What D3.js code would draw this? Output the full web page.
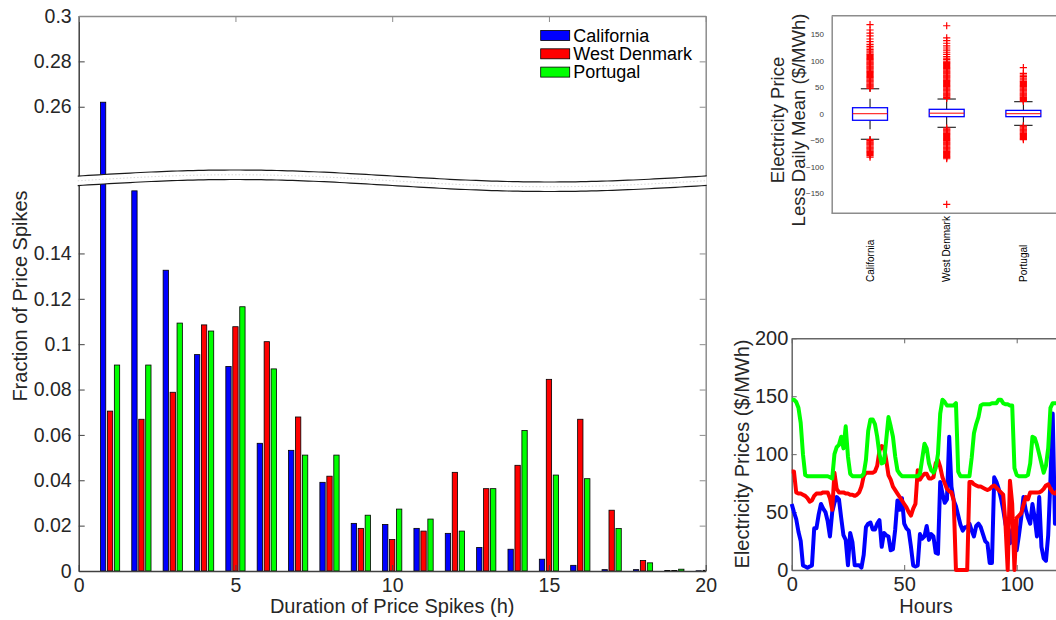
<!DOCTYPE html>
<html>
<head>
<meta charset="utf-8">
<script src="https://cdn.jsdelivr.net/npm/d3@7"></script>
<style>
  body { margin: 0; background: #fff; }
  text { font-family: "Liberation Sans", Arial, Helvetica, sans-serif; }
</style>
</head>
<body>
<svg id="fig" width="1056" height="620"></svg>
<script>
// ---------- Spike-duration histogram (fraction of spikes per duration) ----------
const durations = [1,2,3,4,5,6,7,8,9,10,11,12,13,14,15,16,17,18,19,20];
const california = [0.262,0.1676,0.1326,0.0954,0.0902,0.0563,0.0532,0.0391,0.021,0.0205,0.0188,0.0166,0.0104,0.0096,0.0052,0.0025,0.0006,0.0006,0.0002,0.0001];
const westDenmark = [0.0705,0.0669,0.0788,0.1085,0.1077,0.1011,0.0679,0.0418,0.0188,0.0139,0.0176,0.0435,0.0363,0.0466,0.0845,0.0669,0.0268,0.0046,0.0002,0.0003];
const portugal = [0.0908,0.0908,0.1093,0.1058,0.1165,0.0891,0.0511,0.0511,0.0246,0.0273,0.0229,0.0176,0.0363,0.0619,0.0423,0.0407,0.0187,0.0036,0.0008,0.0001];
const seriesNames = ["California","West Denmark","Portugal"];
const seriesColors = ["#0000ff","#ff0000","#00ff00"];
const mainYTicks = [0,0.02,0.04,0.06,0.08,0.1,0.12,0.14,0.26,0.28,0.3];
const mainXTicks = [0,5,10,15,20];

// ---------- Box plot of price less daily mean ----------
const regions = ["California","West Denmark","Portugal"];
const boxQ1 = [-12.4,-5.6,-5.6];
const boxMedian = [0,1,0];
const boxQ3 = [11.3,8.3,6.3];
const whiskerLow = [-48.2,-25.6,-21.9];
const whiskerHigh = [47,27.7,22.6];
const outliersCalifornia = [48,50,52,54,56,58,60,62,64,66,68,70,72,74,76,78,80,82,84,86,88,90,92,94,96,98,100,102,104,106,108,110,112,115,118,121,124,127,131,136,141,147,152,158,168,
  -49,-51,-53,-55,-57,-59,-61,-63,-65,-67,-69,-71,-73,-75,-77,-79,-82];
const outliersWestDenmark = [29,31,33,35,37,39,41,43,45,47,49,51,53,55,57,59,61,63,65,67,69,71,73,75,77,79,81,83,85,87,89,91,93,95,97,99,102,105,108,112,116,120,124,128,133,138,143,166,
  -27,-29,-31,-33,-35,-37,-39,-41,-43,-45,-47,-49,-51,-53,-55,-57,-59,-61,-63,-65,-67,-69,-71,-73,-75,-77,-79,-81,-83,-85,-171];
const outliersPortugal = [23,25,27,29,31,33,35,37,39,41,43,45,47,49,51,53,55,57,59,61,64,67,70,73,76,87,
  -23,-25,-27,-29,-31,-33,-35,-37,-39,-41,-43,-45,-47,-49];
const boxYTicks = [-150,-100,-50,0,50,100,150];

// ---------- Hourly prices ($/MWh), hour 0..120 ----------
const priceCalifornia = [57,50,44,33,25,4,3,2,3,4,36,36,48,57,53,50,42,29,50,58,63,61,45,30,26,4,32,24,4,4,4,2,13,37,40,41,35,35,40,43,20,32,30,29,17,18,35,60,52,62,40,36,34,20,4,3,4,31,27,29,38,26,31,29,15,14,76,66,58,61,115,72,60,55,47,39,34,37,37,40,34,29,38,40,37,31,25,23,6,6,80,76,70,62,52,40,32,23,35,28,17,30,45,63,52,45,40,57,45,29,63,20,10,8,30,78,135,40,70,60,55];
const priceWestDenmark = [85,85,67,66,66,65,64,62,59,60,64,66,66,66,67,67,67,62,52,84,70,67,67,67,66,66,65,65,64,65,67,72,81,84,84,84,84,85,90,103,107,106,95,82,78,72,69,66,63,60,57,54,50,47,53,57,86,78,81,83,83,79,79,80,92,95,89,80,75,70,68,67,60,0,0,0,0,0,0,76,76,74,73,72,72,71,70,69,70,72,73,71,69,67,65,40,0,77,57,0,45,47,49,56,63,61,67,67,67,67,67,68,70,73,74,70,67,66,68,70,72];
const pricePortugal = [147,147,145,140,127,100,82,81,81,81,81,81,81,81,81,81,81,80,79,100,106,108,115,105,124,98,83,81,81,81,81,81,83,95,120,130,130,126,115,100,92,93,112,132,124,115,98,86,83,81,81,81,81,81,81,81,81,83,96,109,105,92,86,84,88,100,135,147,145,142,142,142,142,144,85,81,81,81,81,81,97,118,126,132,142,143,143,143,143,144,144,144,147,147,144,143,143,142,142,88,82,81,81,81,81,82,92,115,114,108,100,92,84,90,105,140,144,144,144,144,144];
const lineYTicks = [0,50,100,150,200];
const lineXTicks = [0,50,100];

const svg = d3.select("#fig");
svg.append("rect").attr("width", 1056).attr("height", 620).attr("fill", "#fff");
const FONT = '"Liberation Sans", Arial, Helvetica, sans-serif';
const TXT = "#262626";

function styleAxis(g, color, fs, textColor) {
  g.attr("font-family", FONT).attr("font-size", fs);
  g.select(".domain").attr("stroke", color).attr("stroke-width", 1.5);
  g.selectAll(".tick line").attr("stroke", color).attr("stroke-width", 1);
  g.selectAll(".tick text").attr("fill", textColor || TXT);
}
const trimFmt = d => String(+d.toFixed(2));

// ================= Main histogram with broken y axis =================
const M = { l: 78.7, r: 705.7, t: 16, b: 571 };
const x = d3.scaleLinear().domain([0, 20]).range([M.l, M.r]);
// piecewise scale: 0..0.17 below the break, 0.23..0.3 above it
const y = d3.scaleLinear().domain([0, 0.17, 0.23, 0.3]).range([M.b, 185.4, 174.8, M.t]);

svg.append("clipPath").attr("id", "mainClip")
  .append("rect").attr("x", M.l).attr("y", M.t).attr("width", M.r - M.l).attr("height", M.b - M.t);

const offsets = [-0.222, 0, 0.222];
const barW = 0.17;
const seriesValues = [california, westDenmark, portugal];
const barsG = svg.append("g").attr("clip-path", "url(#mainClip)");
seriesValues.forEach((vals, s) => {
  barsG.selectAll(null).data(vals).enter().append("rect")
    .attr("x", (v, i) => x(durations[i] + offsets[s] - barW / 2))
    .attr("width", x(barW) - x(0))
    .attr("y", v => y(v))
    .attr("height", v => y(0) - y(v))
    .attr("fill", seriesColors[s])
    .attr("stroke", "#000")
    .attr("stroke-width", 0.8);
});

const gL = svg.append("g").attr("transform", `translate(${M.l},0)`)
  .call(d3.axisLeft(y).tickValues(mainYTicks).tickSize(-6).tickSizeOuter(0).tickPadding(7).tickFormat(trimFmt));
styleAxis(gL, "#404040", 19.5);
const gR = svg.append("g").attr("transform", `translate(${M.r},0)`)
  .call(d3.axisRight(y).tickValues(mainYTicks).tickSize(-6).tickSizeOuter(0).tickFormat(""));
styleAxis(gR, "#8c8c8c", 19.5);
const gB = svg.append("g").attr("transform", `translate(0,${M.b})`)
  .call(d3.axisBottom(x).tickValues(mainXTicks).tickSize(-6).tickSizeOuter(0).tickPadding(7));
styleAxis(gB, "#404040", 19.5);
const gT = svg.append("g").attr("transform", `translate(0,${M.t})`)
  .call(d3.axisTop(x).tickValues(mainXTicks).tickSize(-6).tickSizeOuter(0).tickFormat(""));
styleAxis(gT, "#8c8c8c", 19.5);

// wavy break band across the axes
const nPts = 120;
const wave = (px, base) => base - 6 * Math.sin(2 * Math.PI * (px - M.l) / (M.r - M.l));
const xs = d3.range(nPts + 1).map(i => M.l - 1 + (M.r - M.l + 2) * i / nPts);
const topPts = xs.map(px => [px, wave(px, 176)]);
const botPts = xs.map(px => [px, wave(px, 185.5)]);
const lineGen = d3.line();
svg.append("path")
  .attr("d", lineGen(topPts.concat(botPts.slice().reverse())) + "Z")
  .attr("fill", "#fff").attr("stroke", "none");
svg.append("path").attr("d", lineGen(xs.map(px => [px, wave(px, 180.75)])))
  .attr("fill", "none").attr("stroke", "#c8c8c8").attr("stroke-width", 0.7).attr("stroke-dasharray", "1.5,2");
svg.append("path").attr("d", lineGen(topPts)).attr("fill", "none").attr("stroke", "#1a1a1a").attr("stroke-width", 1.2);
svg.append("path").attr("d", lineGen(botPts)).attr("fill", "none").attr("stroke", "#1a1a1a").attr("stroke-width", 1.2);

// axis labels
svg.append("text").attr("x", (M.l + M.r) / 2).attr("y", 613)
  .attr("text-anchor", "middle").attr("font-size", 20).attr("fill", TXT)
  .text("Duration of Price Spikes (h)");
svg.append("text").attr("transform", "translate(27,296) rotate(-90)")
  .attr("text-anchor", "middle").attr("font-size", 20).attr("fill", TXT)
  .text("Fraction of Price Spikes");

// legend
const leg = svg.append("g").attr("transform", "translate(540.7,35.5)");
seriesNames.forEach((name, i) => {
  leg.append("rect").attr("x", 0).attr("y", i * 18.3 - 5).attr("width", 29).attr("height", 10)
    .attr("fill", seriesColors[i]).attr("stroke", "#000").attr("stroke-width", 0.8);
  leg.append("text").attr("x", 32.6).attr("y", i * 18.3).attr("dy", "0.35em")
    .attr("font-size", 18).attr("fill", "#000").text(name);
});

// ================= Box plot (top right) =================
const BX = { l: 831.7, r: 1061.7, t: 15.7, b: 213.3 };
const bx = d3.scaleLinear().domain([0.5, 3.5]).range([BX.l, BX.r]);
const by = d3.scaleLinear().domain([-188, 185]).range([BX.b, BX.t]);

const gBL = svg.append("g").attr("transform", `translate(${BX.l},0)`)
  .call(d3.axisLeft(by).tickValues(boxYTicks).tickSize(0).tickSizeOuter(0).tickPadding(7.7));
styleAxis(gBL, "#8c8c8c", 8, "#404040");
svg.append("line").attr("x1", BX.l).attr("x2", 1056).attr("y1", BX.t).attr("y2", BX.t)
  .attr("stroke", "#8c8c8c").attr("stroke-width", 1.5);
svg.append("line").attr("x1", BX.l).attr("x2", 1056).attr("y1", BX.b).attr("y2", BX.b)
  .attr("stroke", "#8c8c8c").attr("stroke-width", 1.5);

const outlierSets = [outliersCalifornia, outliersWestDenmark, outliersPortugal];
const boxHalf = 0.228, capHalf = 0.12;
regions.forEach((name, i) => {
  const cx = bx(i + 1);
  const g = svg.append("g");
  // whiskers (dashed) and caps
  g.append("line").attr("x1", cx).attr("x2", cx).attr("y1", by(boxQ3[i])).attr("y2", by(whiskerHigh[i]))
    .attr("stroke", "#000").attr("stroke-width", 1).attr("stroke-dasharray", "9,7");
  g.append("line").attr("x1", cx).attr("x2", cx).attr("y1", by(boxQ1[i])).attr("y2", by(whiskerLow[i]))
    .attr("stroke", "#000").attr("stroke-width", 1).attr("stroke-dasharray", "9,7");
  [whiskerHigh[i], whiskerLow[i]].forEach(w => {
    g.append("line").attr("x1", bx(i + 1 - capHalf)).attr("x2", bx(i + 1 + capHalf))
      .attr("y1", by(w)).attr("y2", by(w)).attr("stroke", "#000").attr("stroke-width", 1);
  });
  // box and median
  g.append("rect").attr("x", bx(i + 1 - boxHalf)).attr("width", bx(i + 1 + boxHalf) - bx(i + 1 - boxHalf))
    .attr("y", by(boxQ3[i])).attr("height", by(boxQ1[i]) - by(boxQ3[i]))
    .attr("fill", "none").attr("stroke", "#0000ff").attr("stroke-width", 1.3);
  g.append("line").attr("x1", bx(i + 1 - boxHalf)).attr("x2", bx(i + 1 + boxHalf))
    .attr("y1", by(boxMedian[i])).attr("y2", by(boxMedian[i]))
    .attr("stroke", "#ff0000").attr("stroke-width", 1);
  // outliers as '+' markers
  g.selectAll(null).data(outlierSets[i]).enter().append("path")
    .attr("d", v => `M${cx - 3.6},${by(v)}H${cx + 3.6}M${cx},${by(v) - 3.6}V${by(v) + 3.6}`)
    .attr("stroke", "#ff0000").attr("stroke-width", 1.2).attr("fill", "none");
  // rotated category label
  svg.append("text").attr("transform", `translate(${cx + 3.5},282) rotate(-90)`)
    .attr("text-anchor", "start").attr("font-size", 10).attr("fill", "#000").text(name);
});

svg.append("text").attr("transform", "translate(784,120) rotate(-90)")
  .attr("text-anchor", "middle").attr("font-size", 18.5).attr("fill", TXT).text("Electricity Price");
svg.append("text").attr("transform", "translate(805,120) rotate(-90)")
  .attr("text-anchor", "middle").attr("font-size", 18.5).attr("fill", TXT).text("Less Daily Mean ($/MWh)");

// ================= Hourly price lines (bottom right) =================
const LX = { l: 791.7, t: 338.3, b: 570 };
const lx = d3.scaleLinear().domain([0, 120]).range([LX.l, LX.l + 270]);
const ly = d3.scaleLinear().domain([0, 200]).range([LX.b, LX.t]);

const gLL = svg.append("g").attr("transform", `translate(${LX.l},0)`)
  .call(d3.axisLeft(ly).tickValues(lineYTicks).tickSize(-5).tickSizeOuter(0).tickPadding(3.4));
styleAxis(gLL, "#666", 20);
const gLB = svg.append("g").attr("transform", `translate(0,${LX.b})`)
  .call(d3.axisBottom(lx).tickValues(lineXTicks).tickSize(-5).tickSizeOuter(0).tickPadding(7));
styleAxis(gLB, "#666", 20);
const gLT = svg.append("g").attr("transform", `translate(0,${LX.t})`)
  .call(d3.axisTop(lx).tickValues(lineXTicks).tickSize(-5).tickSizeOuter(0).tickFormat(""));
styleAxis(gLT, "#666", 20);

const priceSeries = [priceCalifornia, priceWestDenmark, pricePortugal];
const priceLine = d3.line().x((d, i) => lx(i)).y(d => ly(d));
priceSeries.forEach((vals, s) => {
  svg.append("path").datum(vals).attr("d", priceLine)
    .attr("fill", "none").attr("stroke", seriesColors[s]).attr("stroke-width", 4)
    .attr("stroke-linejoin", "round");
});

svg.append("text").attr("x", 926).attr("y", 613).attr("text-anchor", "middle")
  .attr("font-size", 20).attr("fill", TXT).text("Hours");
svg.append("text").attr("transform", "translate(749,454) rotate(-90)")
  .attr("text-anchor", "middle").attr("font-size", 20).attr("fill", TXT).text("Electricity Prices ($/MWh)");
</script>
</body>
</html>
